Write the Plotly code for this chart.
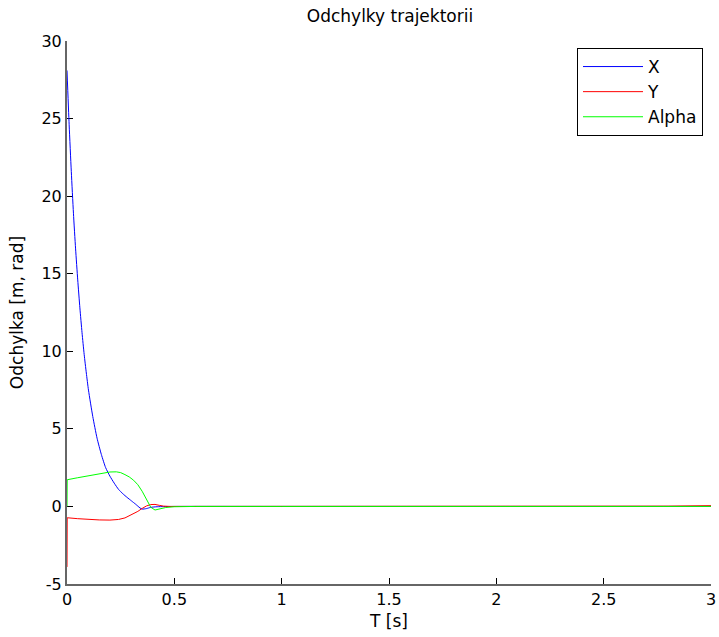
import plotly.graph_objects as go

# X deviation
t_x = [0, 0.01, 0.02, 0.03, 0.04, 0.05, 0.06, 0.07, 0.08, 0.09, 0.10, 0.12, 0.14, 0.16, 0.18,
       0.20, 0.22, 0.24, 0.26, 0.28, 0.30, 0.32, 0.33, 0.34, 0.35, 0.37, 0.39, 0.42, 0.45, 0.5,
       1.0, 2.0, 2.4, 3.0]
x_vals = [28.1, 24.6, 21.6, 18.9, 16.6, 14.6, 12.8, 11.2, 9.8, 8.6, 7.5, 5.8, 4.4, 3.35, 2.5,
          1.95, 1.5, 1.1, 0.82, 0.58, 0.36, 0.14, 0.02, -0.1, -0.17, -0.14, -0.06, -0.02, -0.01, 0,
          0, 0, 0, 0]

# Y deviation
t_y = [0, 0.001, 0.05, 0.10, 0.15, 0.20, 0.24, 0.27, 0.30, 0.33, 0.35, 0.37, 0.39, 0.41, 0.43,
       0.45, 0.48, 0.5, 1.0, 2.0, 2.8, 3.0]
y_vals = [-3.9, -0.73, -0.79, -0.84, -0.87, -0.88, -0.84, -0.74, -0.55, -0.32, -0.13, 0.03, 0.12,
          0.13, 0.07, 0.02, 0, 0, 0, 0, 0.02, 0.05]

# Alpha deviation
t_a = [0, 0.001, 0.05, 0.10, 0.15, 0.20, 0.23, 0.25, 0.27, 0.29, 0.31, 0.33, 0.35, 0.37, 0.39,
       0.41, 0.43, 0.46, 0.50, 0.6, 1.0, 2.0, 3.0]
a_vals = [0, 1.72, 1.85, 1.98, 2.1, 2.22, 2.23, 2.18, 2.05, 1.9, 1.69, 1.4, 0.98, 0.45, -0.05,
          -0.23, -0.18, -0.07, -0.02, 0, 0, 0, 0]

x_ticks = [0, 0.5, 1, 1.5, 2, 2.5, 3]
x_ticklabels = ["0", "0.5", "1", "1.5", "2", "2.5", "3"]
y_ticks = [-5, 0, 5, 10, 15, 20, 25, 30]
y_ticklabels = ["-5", "0", "5", "10", "15", "20", "25", "30"]

FONT = "DejaVu Sans, sans-serif"

fig = go.Figure()
fig.add_trace(go.Scatter(x=t_x, y=x_vals, mode="lines", name="X",
                         line=dict(color="#0000ff", width=1, shape="spline", smoothing=0.6)))
fig.add_trace(go.Scatter(x=t_y, y=y_vals, mode="lines", name="Y",
                         line=dict(color="#ff0000", width=1)))
fig.add_trace(go.Scatter(x=t_a, y=a_vals, mode="lines", name="Alpha",
                         line=dict(color="#00ff00", width=1)))

fig.update_layout(
    width=719, height=637,
    margin=dict(l=67, r=8, t=41, b=53),
    paper_bgcolor="white", plot_bgcolor="white",
    font=dict(family=FONT, size=16, color="black"),
    title=dict(text="Odchylky trajektorii", x=390 / 719, xanchor="center",
               y=1 - 16 / 637, yanchor="middle", yref="container",
               font=dict(size=17, family=FONT, color="black")),
    showlegend=True,
    legend=dict(x=(703 - 67) / 644, xanchor="right", y=(584 - 48) / 543, yanchor="top",
                bordercolor="black", borderwidth=1, bgcolor="white",
                font=dict(size=17, family=FONT), tracegroupgap=0, itemwidth=60),
)
fig.update_xaxes(range=[0, 3], tickvals=x_ticks, ticktext=x_ticklabels, showgrid=False,
                 zeroline=False, automargin=False, layer="below traces",
                 showline=True, linecolor="#666666", linewidth=2,
                 ticks="inside", ticklen=6, tickcolor="black", tickwidth=1,
                 title=dict(text="T [s]", font=dict(size=17, family=FONT), standoff=7),
                 tickfont=dict(size=16))
fig.update_yaxes(range=[-5, 30], tickvals=y_ticks, ticktext=y_ticklabels, showgrid=False,
                 zeroline=False, automargin=False, layer="below traces",
                 showline=True, linecolor="#666666", linewidth=2,
                 ticks="inside", ticklen=6, tickcolor="black", tickwidth=1,
                 title=dict(text="Odchylka [m, rad]", font=dict(size=17, family=FONT), standoff=13),
                 tickfont=dict(size=16))

fig.write_html("out.html")
